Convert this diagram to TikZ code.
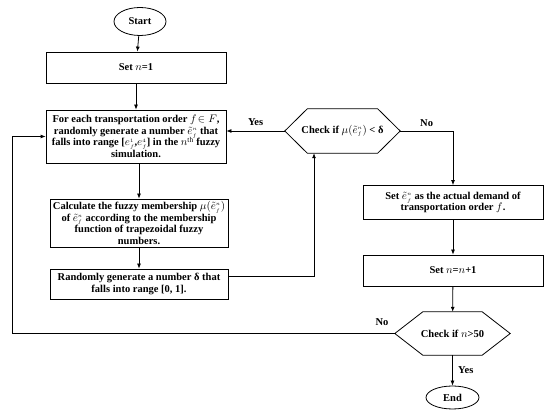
\documentclass[tikz,border=0pt]{standalone}
\usepackage{fontspec}
\setmainfont{Liberation Serif}
\usetikzlibrary{shapes.geometric,arrows.meta}
\newcommand{\et}{\tilde{e}_{\scriptscriptstyle f}^{\scriptscriptstyle n}}
\newcommand{\diagfont}{\bfseries\fontsize{10.5}{11.5}\selectfont\lineskiplimit=-10pt\relax}
\begin{document}
\begin{tikzpicture}[x=1pt,y=-1pt,
  txt/.style={font=\diagfont},
  box/.style={draw, line width=0.8pt, align=center, txt, inner sep=1pt},
  term/.style={draw, ellipse, line width=0.8pt, txt, inner sep=0pt},
  hexn/.style={txt, inner sep=0pt, minimum width=115pt},
  hexline/.style={line width=0.8pt},
  arr/.style={-{Latex[length=5pt,width=4pt]}, line width=0.8pt},
  line/.style={line width=0.8pt},
  lbl/.style={txt}
]
\fill[white] (0,0) rectangle (550,414);
\useasboundingbox (0,0) rectangle (550,414);

\node[term, minimum width=52pt, minimum height=28pt] (start) at (140,21.5) {Start};
\node[box, minimum width=180pt, minimum height=31pt] (set1) at (136,67.5) {Set $n$=1};
\node[box, minimum width=180pt, minimum height=53pt] (gen) at (136,136.5)
  {For each transportation order $f\!\in F$,\\ randomly generate a number $\et$ that\\ falls into range [$e_{\scriptscriptstyle f}^{\scriptscriptstyle 1}$,$e_{\scriptscriptstyle f}^{\scriptscriptstyle 4}$] in the $n^{\mathrm{th}}$ fuzzy\\ simulation.};
\node[box, minimum width=178pt, minimum height=48pt] (calc) at (139,223)
  {Calculate the fuzzy membership $\mu(\et)$\\ of $\et$ according to the membership\\ function of trapezoidal fuzzy\\ numbers.};
\node[box, minimum width=178pt, minimum height=30pt] (rand) at (139,284)
  {Randomly generate a number δ that\\ falls into range [0, 1].};

\node[hexn, minimum height=44pt] (chk1) at (342.5,131) {Check if $\mu(\et)$ < δ};
\draw[hexline] (chk1.west) -- ([xshift=22.5pt]chk1.north west) -- ([xshift=-22.5pt]chk1.north east)
  -- (chk1.east) -- ([xshift=-22.5pt]chk1.south east) -- ([xshift=22.5pt]chk1.south west) -- cycle;

\node[box, minimum width=180pt, minimum height=34pt] (setd) at (453,202.5)
  {Set $\et$ as the actual demand of\\ transportation order $f$.};
\node[box, minimum width=180pt, minimum height=31pt] (setn) at (453,270.5) {Set $n$=$n$+1};

\node[hexn, minimum height=43pt] (chk2) at (452.5,333.5) {Check if $n$>50};
\draw[hexline] (chk2.west) -- ([xshift=28pt]chk2.north west) -- ([xshift=-28pt]chk2.north east)
  -- (chk2.east) -- ([xshift=-28pt]chk2.south east) -- ([xshift=28pt]chk2.south west) -- cycle;

\node[term, minimum width=53pt, minimum height=23pt] (end) at (452.5,397.5) {End};

\coordinate (loopc) at (12,333.5);

\draw[arr] (start) -- (set1);
\draw[arr] (set1) -- (gen);
\draw[arr] (gen.south -| calc.north) -- (calc.north);
\draw[arr] (calc) -- (rand);
\draw[arr] ([yshift=8pt]rand.east) -| ([xshift=-28.5pt]chk1.south);
\draw[arr] (chk1.west) -- (chk1.west -| gen.east) node[lbl, midway, above=2pt] {Yes};
\draw[arr] (chk1.east) -| (setd.north) node[lbl, pos=0.25, above=1pt] {No};
\draw[arr] (setd) -- (setn);
\draw[arr] (setn) -- (chk2);
\draw[arr] (chk2) -- (end) node[lbl, midway, right=2pt] {Yes};
\draw[line] (chk2.west) -- (loopc);
\draw[arr] (loopc) |- (gen.west);
\node[lbl] (nolbl) at (382,322) {No};
\end{tikzpicture}
\end{document}
